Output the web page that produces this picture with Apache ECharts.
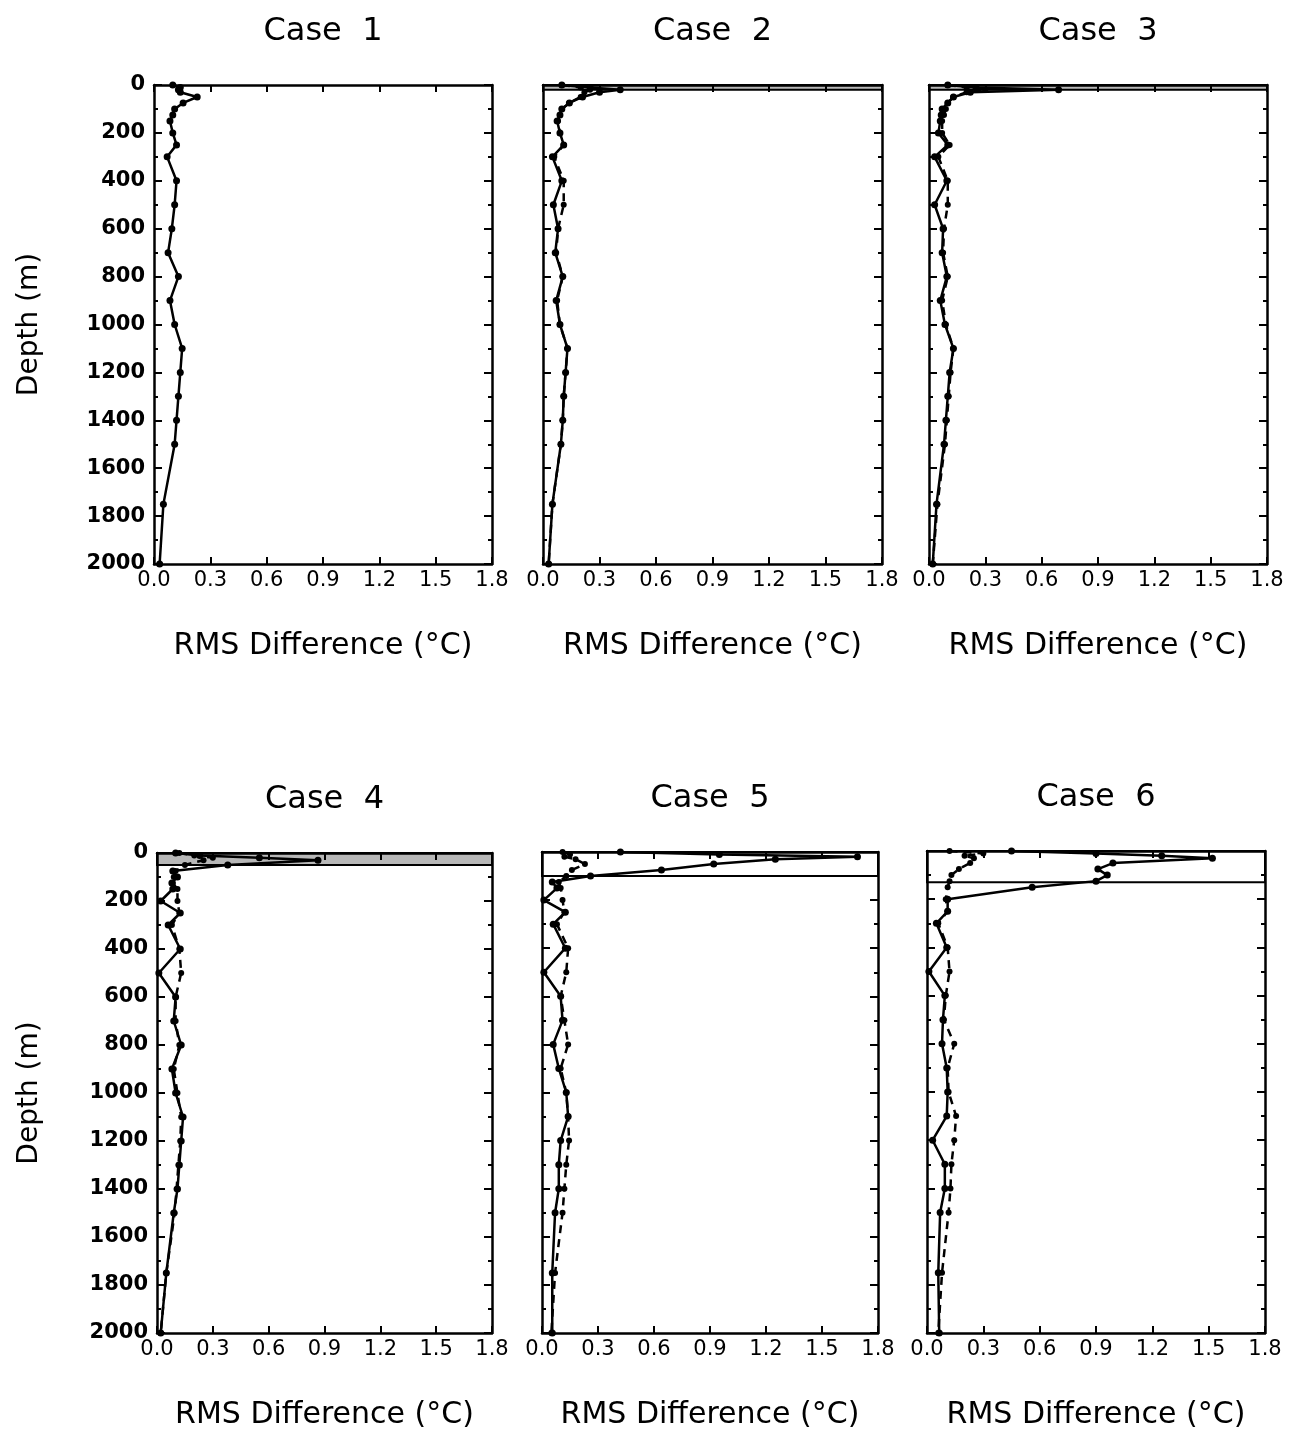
<!DOCTYPE html>
<html><head><meta charset="utf-8">
<script src="https://cdn.jsdelivr.net/npm/echarts@6/dist/echarts.min.js"></script>
<style>html,body{margin:0;padding:0;background:#fff}#c{width:1289px;height:1435px}</style>
</head><body><div id="c"></div>
<script>
// Standard depth levels (m)
const depths = [0,10,20,30,50,75,100,125,150,200,250,300,400,500,600,700,800,900,1000,1100,1200,1300,1400,1500,1750,2000];
const caseNames = ['Case  1','Case  2','Case  3','Case  4','Case  5','Case  6'];
const xTickValues = [0.0,0.3,0.6,0.9,1.2,1.5,1.8];
const yTickValues = [0,200,400,600,800,1000,1200,1400,1600,1800,2000];
const xTitle = 'RMS Difference (°C)';
const yTitle = 'Depth (m)';
// depth of the upper (shaded / boxed) layer in each case; 0 = none
const layerDepth = [0, 20, 20, 50, 100, 130];

// RMS difference (°C), solid curves
const case1Solid = [0.10,0.14,0.13,0.14,0.23,0.155,0.11,0.10,0.085,0.10,0.12,0.07,0.12,0.11,0.095,0.075,0.13,0.085,0.11,0.15,0.14,0.13,0.12,0.11,0.05,0.03];
const case2Solid = [0.10,0.25,0.41,0.30,0.21,0.14,0.10,0.09,0.075,0.09,0.11,0.05,0.10,0.055,0.08,0.065,0.105,0.07,0.09,0.13,0.12,0.11,0.105,0.095,0.05,0.03];
const case3Solid = [0.10,0.25,0.69,0.22,0.13,0.10,0.07,0.065,0.06,0.05,0.10,0.03,0.095,0.03,0.075,0.07,0.095,0.06,0.085,0.13,0.11,0.10,0.09,0.08,0.04,0.02];
const case4Solid = [0.10,0.23,0.55,0.865,0.38,0.085,0.11,0.08,0.085,0.02,0.125,0.06,0.125,0.01,0.10,0.09,0.13,0.08,0.10,0.14,0.13,0.12,0.11,0.09,0.05,0.02];
const case5Solid = [0.42,0.95,1.69,1.25,0.92,0.64,0.26,0.055,0.08,0.01,0.125,0.06,0.125,0.01,0.10,0.11,0.06,0.09,0.13,0.14,0.10,0.09,0.09,0.07,0.055,0.055];
const case6Solid = [0.45,0.90,1.25,1.52,0.99,0.91,0.96,0.90,0.56,0.11,0.11,0.05,0.105,0.01,0.095,0.085,0.08,0.105,0.11,0.105,0.03,0.095,0.095,0.07,0.06,0.065];
// dashed curves
const case2Dashed = [0.10,0.20,0.25,0.22,0.20,0.14,0.10,0.09,0.08,0.09,0.11,0.06,0.11,0.11,0.08,0.07,0.105,0.075,0.09,0.13,0.12,0.11,0.105,0.095,0.05,0.03];
const case3Dashed = [0.10,0.20,0.30,0.20,0.13,0.10,0.09,0.08,0.07,0.07,0.11,0.05,0.10,0.10,0.08,0.075,0.10,0.07,0.09,0.13,0.115,0.105,0.095,0.085,0.045,0.02];
const case4Dashed = [0.12,0.20,0.30,0.25,0.15,0.10,0.09,0.085,0.11,0.11,0.12,0.08,0.12,0.13,0.10,0.10,0.12,0.09,0.11,0.13,0.125,0.115,0.105,0.095,0.05,0.02];
const case5Dashed = [0.11,0.15,0.12,0.18,0.23,0.16,0.13,0.09,0.10,0.11,0.12,0.08,0.14,0.13,0.10,0.12,0.14,0.10,0.13,0.14,0.145,0.13,0.12,0.11,0.07,0.05];
const case6Dashed = [0.12,0.30,0.20,0.25,0.23,0.17,0.13,0.12,0.11,0.10,0.11,0.06,0.11,0.12,0.10,0.09,0.145,0.11,0.115,0.155,0.145,0.13,0.125,0.115,0.08,0.06];

const solids = [case1Solid,case2Solid,case3Solid,case4Solid,case5Solid,case6Solid];
const dashes = [null,case2Dashed,case3Dashed,case4Dashed,case5Dashed,case6Dashed];

const FONT = 'DejaVu Sans';
const panels = [
  {left:154, top:85, width:338, height:479},
  {left:543, top:85, width:339, height:479},
  {left:929, top:85, width:338, height:479},
  {left:157, top:853, width:335, height:480},
  {left:542, top:852, width:336, height:481},
  {left:927, top:851, width:338, height:482}
];

const grid=[], xAxis=[], yAxis=[], series=[], graphic=[];
const xMin = xTickValues[0], xMax = xTickValues[xTickValues.length-1], xInt = xTickValues[1]-xTickValues[0];
const yMin = yTickValues[0], yMax = yTickValues[yTickValues.length-1], yInt = yTickValues[1]-yTickValues[0];
const axLine = {show:true, onZero:false, lineStyle:{color:'#000', width:2.5}};

panels.forEach((p,i)=>{
  grid.push({left:p.left, top:p.top, width:p.width, height:p.height, containLabel:false});
  const common = {gridIndex:i, type:'value', min:xMin, max:xMax, interval:xInt, splitLine:{show:false}, axisLine:axLine,
    axisTick:{show:true, inside:true, length:7, lineStyle:{color:'#000', width:2}}};
  xAxis.push(Object.assign({}, common, {position:'bottom',
    axisLabel:{show:true, color:'#000', fontSize:21, fontFamily:FONT, margin:6, formatter:v=>(+v).toFixed(1), showMaxLabel:true, showMinLabel:true}}));
  xAxis.push(Object.assign({}, common, {position:'top', axisLabel:{show:false}}));
  const ycommon = {gridIndex:i, type:'value', inverse:true, min:yMin, max:yMax, interval:yInt, splitLine:{show:false}, axisLine:axLine,
    axisTick:{show:true, inside:true, length:8, lineStyle:{color:'#000', width:2}},
    minorTick:{show:true, splitNumber:2, length:4, lineStyle:{color:'#000', width:2}}, minorSplitLine:{show:false}};
  yAxis.push(Object.assign({}, ycommon, {position:'left',
    axisLabel:{show: i%3===0, color:'#000', fontSize:21, fontWeight:'bold', fontFamily:FONT, margin:9, formatter:v=>String(Math.round(v))}}));
  yAxis.push(Object.assign({}, ycommon, {position:'right', axisLabel:{show:false}}));

  const sol = {type:'line', xAxisIndex:2*i, yAxisIndex:2*i, data: depths.map((d,k)=>[solids[i][k], d]),
    symbol:'circle', symbolSize:7, showSymbol:true, z:3,
    lineStyle:{color:'#000', width:2.5}, itemStyle:{color:'#000'}, animation:false, silent:true};
  if (layerDepth[i] > 0) {
    sol.markArea = {silent:true,
      itemStyle:{color: i>=4 ? 'rgba(255,255,255,0)' : 'rgba(0,0,0,0.28)', borderColor:'#000', borderWidth:2},
      data:[[{xAxis:xMin, yAxis:0},{xAxis:xMax, yAxis:layerDepth[i]}]]};
  }
  series.push(sol);
  if (dashes[i]) {
    series.push({type:'line', xAxisIndex:2*i, yAxisIndex:2*i, data: depths.map((d,k)=>[dashes[i][k], d]),
      symbol:'circle', symbolSize:6, z:2,
      lineStyle:{color:'#000', width:2.5, type:[8,6]}, itemStyle:{color:'#000'}, animation:false, silent:true});
  }
  const cx = p.left + p.width/2;
  graphic.push({type:'text', x:cx, y:p.top-53, style:{text:caseNames[i], fill:'#000', font:'32px "'+FONT+'"', textAlign:'center', textVerticalAlign:'middle', align:'center', verticalAlign:'middle'}});
  graphic.push({type:'text', x:cx, y:p.top+p.height+82, style:{text:xTitle, fill:'#000', font:'30px "'+FONT+'"', textAlign:'center', textVerticalAlign:'middle', align:'center', verticalAlign:'middle'}});
  if (i%3===0) {
    graphic.push({type:'text', x:30, y:p.top+p.height/2, rotation:Math.PI/2, style:{text:yTitle, fill:'#000', font:'28px "'+FONT+'"', textAlign:'center', textVerticalAlign:'middle', align:'center', verticalAlign:'middle'}});
  }
});

const chart = echarts.init(document.getElementById('c'), null, {renderer:'canvas'});
chart.setOption({backgroundColor:'#fff', animation:false, grid, xAxis, yAxis, series, graphic});
</script>
</body></html>
